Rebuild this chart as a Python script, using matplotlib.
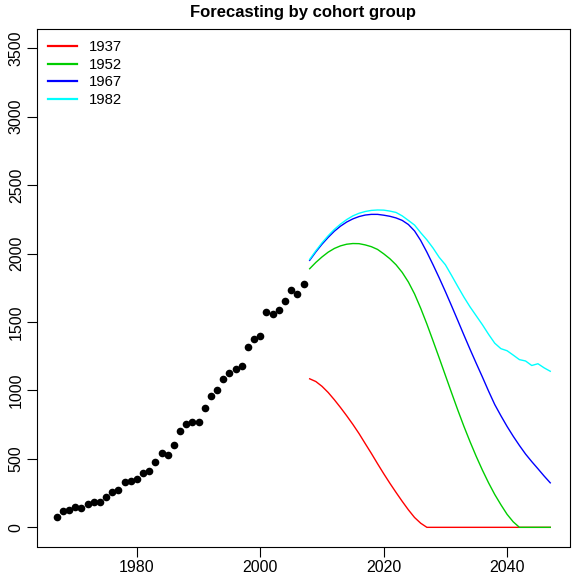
import matplotlib
matplotlib.use("Agg")
import matplotlib.pyplot as plt
import numpy as np

plt.rcParams['font.family'] = ['Liberation Sans', 'DejaVu Sans']

# Observed data (1967-2007)
obs_years = list(range(1967, 2008))
obs_values = [76, 117, 124, 149, 139, 168, 183, 186, 219, 256,
              270, 329, 341, 356, 398, 414, 475, 544, 529, 605,
              707, 753, 770, 773, 870, 958, 1004, 1085, 1126, 1153,
              1182, 1319, 1377, 1396, 1575, 1560, 1584, 1652, 1732, 1706,
              1779]

# Forecast years (2008-2047)
fc_years = list(range(2008, 2048))
cohorts = ["1937", "1952", "1967", "1982"]
colors = ["#FF0000", "#00CD00", "#0000FF", "#00FFFF"]

f1937 = [1085, 1065, 1030, 985, 932, 875, 815, 752, 685, 612,
         540, 465, 392, 322, 255, 190, 128, 72, 30, 0,
         0, 0, 0, 0, 0, 0, 0, 0, 0, 0,
         0, 0, 0, 0, 0, 0, 0, 0, 0, 0]
f1952 = [1889, 1935, 1975, 2010, 2037, 2056, 2068, 2073, 2072, 2063,
         2050, 2030, 1998, 1962, 1918, 1862, 1792, 1705, 1600, 1485,
         1362, 1237, 1110, 983, 858, 738, 625, 518, 418, 325,
         240, 165, 95, 40, 0, 0, 0, 0, 0, 0]
f1967 = [1950, 2012, 2068, 2118, 2163, 2200, 2230, 2253, 2270, 2281,
         2286, 2286, 2280, 2272, 2260, 2242, 2212, 2165, 2095, 2010,
         1918, 1822, 1722, 1618, 1512, 1405, 1300, 1198, 1098, 995,
         897, 815, 737, 665, 598, 535, 480, 428, 375, 325]
f1982 = [1957, 2020, 2078, 2130, 2176, 2215, 2248, 2275, 2294, 2307,
         2315, 2318, 2317, 2310, 2300, 2275, 2242, 2208, 2152, 2100,
         2040, 1972, 1918, 1840, 1760, 1682, 1610, 1545, 1480, 1410,
         1345, 1305, 1290, 1258, 1225, 1215, 1182, 1195, 1165, 1140]
forecasts = [f1937, f1952, f1967, f1982]

xticks = [1980, 2000, 2020, 2040]
yticks = [0, 500, 1000, 1500, 2000, 2500, 3000, 3500]

W, H = 575, 583
fig = plt.figure(figsize=(W / 100, H / 100), dpi=100)
left, right, top, bottom = 37, 570, 29, 546.5
ax = fig.add_axes([left / W, 1 - bottom / H, (right - left) / W, (bottom - top) / H])

ax.plot(obs_years, obs_values, 'o', color='black', markersize=5.5, markeredgewidth=0)
for vals, col, lab in zip(forecasts, colors, cohorts):
    ax.plot(fc_years, vals, color=col, linewidth=1.0, label=lab)

ax.set_xlim(1963.8, 2050.2)
ax.set_ylim(-140, 3640)
ax.set_xticks(xticks)
ax.set_yticks(yticks)
ax.tick_params(axis='both', labelsize=11.5, length=7.5, width=0.8, color='black')
ax.tick_params(axis='x', pad=2.5)
ax.tick_params(axis='y', pad=2, labelrotation=90)
for lbl in ax.get_yticklabels():
    lbl.set_va('center')
for sp in ax.spines.values():
    sp.set_linewidth(0.8)
    sp.set_color('black')

fig.text(0.5 * (left + right) / W, 1 - 13 / H, "Forecasting by cohort group",
         ha='center', va='center', fontsize=12, fontweight='bold')

leg = ax.legend(loc='upper left', bbox_to_anchor=(48 / W, 1 - 40 / H),
                bbox_transform=fig.transFigure, frameon=False, fontsize=10.7,
                handlelength=1.95, handletextpad=0.8, labelspacing=0.25,
                borderpad=0, borderaxespad=0)
for line in leg.get_lines():
    line.set_linewidth(1.6)

fig.savefig("out.png", dpi=100)
